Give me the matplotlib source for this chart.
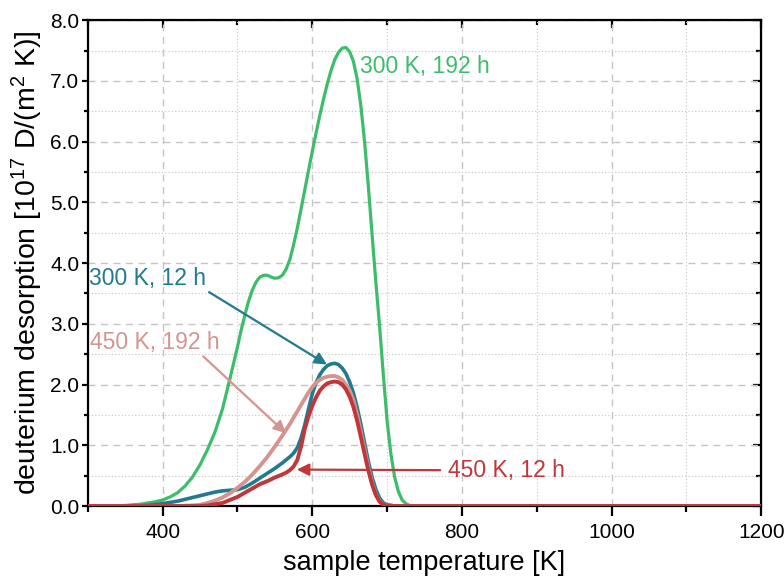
import matplotlib
matplotlib.use("Agg")
import matplotlib.pyplot as plt
from matplotlib.ticker import MultipleLocator, FormatStrFormatter

plt.rcParams["font.family"] = ["Liberation Sans", "DejaVu Sans"]
plt.rcParams["mathtext.default"] = "regular"

# sample temperature [K] and deuterium desorption [1e17 D/(m^2 K)]
t_300K_192h = [300, 330, 350, 370, 390, 400, 410, 420, 430, 440, 450, 460, 470,
               480, 490, 500, 505, 510, 515, 520, 525, 530, 535, 540, 545, 550,
               555, 560, 565, 570, 575, 580, 585, 590, 595, 600, 605, 610, 615,
               620, 625, 630, 635, 640, 645, 650, 655, 660, 665, 670, 675, 680,
               685, 690, 695, 700, 705, 710, 715, 720, 725, 730, 740, 1200]
d_300K_192h = [0, 0, 0.01, 0.03, 0.07, 0.10, 0.15, 0.22, 0.33, 0.48, 0.68, 0.93,
               1.22, 1.60, 2.10, 2.62, 2.90, 3.15, 3.38, 3.56, 3.69, 3.77, 3.80,
               3.80, 3.77, 3.75, 3.76, 3.80, 3.90, 4.06, 4.30, 4.58, 4.89, 5.21,
               5.53, 5.84, 6.14, 6.43, 6.70, 6.95, 7.17, 7.35, 7.47, 7.54, 7.55,
               7.48, 7.32, 7.03, 6.58, 5.98, 5.25, 4.45, 3.68, 2.95, 2.15, 1.40,
               0.86, 0.48, 0.24, 0.10, 0.04, 0.01, 0, 0]

t_300K_12h = [300, 360, 380, 400, 420, 440, 460, 470, 480, 490, 500, 510, 520,
              530, 540, 550, 560, 565, 570, 575, 580, 585, 590, 595, 600, 605,
              610, 615, 620, 625, 630, 635, 640, 645, 650, 655, 660, 665, 670,
              675, 680, 685, 690, 695, 700, 710, 1200]
d_300K_12h = [0, 0, 0.01, 0.04, 0.08, 0.14, 0.20, 0.23, 0.25, 0.26, 0.27, 0.31,
              0.38, 0.46, 0.54, 0.62, 0.71, 0.76, 0.81, 0.87, 0.96, 1.12, 1.34,
              1.60, 1.85, 2.03, 2.16, 2.25, 2.31, 2.34, 2.35, 2.33, 2.27, 2.18,
              2.04, 1.86, 1.62, 1.34, 1.03, 0.73, 0.47, 0.27, 0.13, 0.05, 0.02,
              0, 0]

t_450K_192h = [300, 420, 440, 450, 460, 470, 480, 490, 500, 510, 520, 530, 540,
               550, 560, 570, 580, 590, 595, 600, 605, 610, 615, 620, 625, 630,
               635, 640, 645, 650, 655, 660, 665, 670, 675, 680, 685, 690, 695,
               700, 710, 1200]
d_450K_192h = [0, 0, 0.01, 0.02, 0.05, 0.09, 0.14, 0.21, 0.30, 0.40, 0.52, 0.66,
               0.81, 0.98, 1.16, 1.35, 1.56, 1.77, 1.87, 1.96, 2.03, 2.08, 2.11,
               2.13, 2.14, 2.14, 2.12, 2.08, 2.00, 1.90, 1.74, 1.50, 1.22, 0.92,
               0.63, 0.38, 0.19, 0.08, 0.02, 0.01, 0, 0]

t_450K_12h = [300, 450, 460, 470, 480, 490, 500, 510, 520, 530, 540, 550, 560,
              565, 570, 575, 580, 585, 590, 595, 600, 605, 610, 615, 620, 625,
              630, 635, 640, 645, 650, 655, 660, 665, 670, 675, 680, 685, 690,
              695, 700, 710, 1200]
d_450K_12h = [0, 0, 0.01, 0.03, 0.05, 0.10, 0.15, 0.22, 0.29, 0.36, 0.41, 0.47,
              0.52, 0.55, 0.59, 0.65, 0.76, 0.98, 1.27, 1.48, 1.65, 1.79, 1.90,
              1.97, 2.02, 2.04, 2.05, 2.04, 2.00, 1.92, 1.80, 1.63, 1.40, 1.13,
              0.85, 0.58, 0.35, 0.18, 0.07, 0.02, 0.01, 0, 0]

green = "#3dbd6b"
teal = "#217a8d"
pink = "#d4948f"
red = "#c1363a"

fig = plt.figure(figsize=(7.84, 5.77), dpi=100)
ax = fig.add_axes([0.112, 0.123, 0.859, 0.842])

ax.plot(t_300K_192h, d_300K_192h, color=green, lw=2.3, zorder=3)
ax.plot(t_300K_12h, d_300K_12h, color=teal, lw=2.6, zorder=4)
ax.plot(t_450K_192h, d_450K_192h, color=pink, lw=2.8, zorder=5)
ax.plot(t_450K_12h, d_450K_12h, color=red, lw=2.8, zorder=6)

ax.set_xlim(300, 1200)
ax.set_ylim(0, 8)
ax.xaxis.set_major_locator(MultipleLocator(200))
ax.xaxis.set_minor_locator(MultipleLocator(100))
ax.yaxis.set_major_locator(MultipleLocator(1))
ax.yaxis.set_minor_locator(MultipleLocator(0.5))
ax.yaxis.set_major_formatter(FormatStrFormatter("%.1f"))
ax.set_xticks([400, 600, 800, 1000, 1200])

ax.grid(which="major", color="#c4c4c4", ls=(0, (5, 4)), lw=1.0)
ax.grid(which="minor", color="#c4c4c4", ls=(0, (1, 2)), lw=0.8)
ax.set_axisbelow(True)

for s in ax.spines.values():
    s.set_linewidth(1.6)
ax.tick_params(axis="x", which="major", direction="out", length=7, width=1.6,
               labelsize=15, pad=5)
ax.tick_params(axis="x", which="minor", direction="out", length=4.5, width=1.6)
ax.tick_params(axis="y", which="major", direction="out", length=4, width=1.6,
               labelsize=15, pad=2)
ax.tick_params(axis="y", which="minor", direction="out", length=3, width=1.6)

top = ax.secondary_xaxis("top")
top.xaxis.set_major_locator(MultipleLocator(200))
top.xaxis.set_minor_locator(MultipleLocator(100))
top.tick_params(which="major", direction="in", length=6, width=1.6, labeltop=False)
top.tick_params(which="minor", direction="in", length=3.5, width=1.6)
right = ax.secondary_yaxis("right")
right.yaxis.set_major_locator(MultipleLocator(1))
right.yaxis.set_minor_locator(MultipleLocator(0.5))
right.tick_params(which="major", direction="in", length=6, width=1.6, labelright=False)
right.tick_params(which="minor", direction="in", length=3.5, width=1.6)

ax.set_xlabel("sample temperature [K]", fontsize=19.5, labelpad=6)
ax.set_ylabel(r"deuterium desorption [10$^{17}$ D/(m$^{2}$ K)]", fontsize=20.5, labelpad=4)

fs = 16.5
ax.text(664, 7.24, "300 K, 192 h", color=green, fontsize=fs, va="center", ha="left")
ax.annotate("300 K, 12 h", xy=(619.6, 2.33), xytext=(302, 3.74), color=teal,
            fontsize=fs, va="center", ha="left",
            arrowprops=dict(arrowstyle="-|>", color=teal, lw=1.6, mutation_scale=18,
                            shrinkA=0, shrinkB=0, relpos=(1.0, 0.0)))
ax.annotate("450 K, 192 h", xy=(564.7, 1.2), xytext=(303, 2.70), color=pink,
            fontsize=fs, va="center", ha="left",
            arrowprops=dict(arrowstyle="-|>", color=pink, lw=1.6, mutation_scale=18,
                            shrinkA=0, shrinkB=0, relpos=(0.85, 0.0)))
ax.annotate("450 K, 12 h", xy=(579.4, 0.6), xytext=(782, 0.59), color=red,
            fontsize=fs, va="center", ha="left",
            arrowprops=dict(arrowstyle="-|>", color=red, lw=1.6, mutation_scale=18,
                            shrinkA=4, shrinkB=0, relpos=(0.0, 0.5)))

fig.savefig("out.png", dpi=100)
